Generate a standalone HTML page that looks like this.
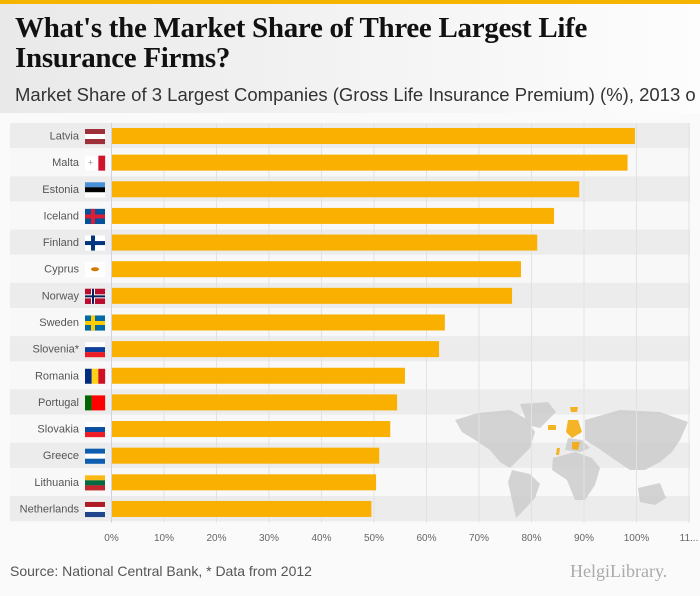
<!DOCTYPE html>
<html><head><meta charset="utf-8"><style>
html,body{margin:0;padding:0;}
body{width:700px;height:596px;background:#fafafa;position:relative;overflow:hidden;font-family:"Liberation Sans",sans-serif;}
#hdr{position:absolute;left:0;top:0;width:700px;height:113px;background:linear-gradient(90deg,#e9e9e9,#fdfdfd);border-top:4px solid #f5b400;box-sizing:border-box;}
#title{position:absolute;left:15px;top:9px;font-family:"Liberation Serif",serif;font-weight:bold;font-size:29px;line-height:30px;color:#111;letter-spacing:-0.3px;}
#sub{position:absolute;left:15px;top:80px;font-size:18.5px;color:#333;white-space:nowrap;}
#src{position:absolute;left:10px;top:563px;font-size:14px;color:#555;}
#logo{position:absolute;left:570px;top:561px;font-family:"Liberation Serif",serif;font-size:18px;color:#aaa;}
</style></head><body>
<div id="hdr">
<div id="title">What's the Market Share of Three Largest Life<br>Insurance Firms?</div>
<div id="sub">Market Share of 3 Largest Companies (Gross Life Insurance Premium) (%), 2013 o</div>
</div>
<svg id="chart" width="700" height="596" style="position:absolute;left:0;top:0"></svg>
<div id="src">Source: National Central Bank, * Data from 2012</div>
<div id="logo">HelgiLibrary.</div>
<script>
const categories=["Latvia","Malta","Estonia","Iceland","Finland","Cyprus","Norway","Sweden","Slovenia*","Romania","Portugal","Slovakia","Greece","Lithuania","Netherlands"];
const values=[99.6,98.2,89.0,84.2,81.0,77.9,76.2,63.4,62.3,55.8,54.3,53.0,50.9,50.3,49.4];
const tickValues=[0,10,20,30,40,50,60,70,80,90,100,110];
const tickLabels=["0%","10%","20%","30%","40%","50%","60%","70%","80%","90%","100%","11..."];
const flags=[["#9e3039","#fff","#9e3039"],["#fff","#fff","#cf142b"],["#4891d9","#000","#fff"],["#02529c","#dc1e35","#02529c"],["#fff","#003580","#fff"],["#fff","#fff","#fff"],["#ba0c2f","#00205b","#ba0c2f"],["#006aa7","#fecc00","#006aa7"],["#fff","#0d3f9c","#ed1c24"],["#002b7f","#fcd116","#ce1126"],["#006600","#ff0000","#ff0000"],["#fff","#0b4ea2","#ee1c25"],["#0d5eaf","#fff","#0d5eaf"],["#fdb913","#006a44","#c1272d"],["#ae1c28","#fff","#21468b"]];
const NS="http://www.w3.org/2000/svg";
const svg=document.getElementById('chart');
const x0=111.5,x100=636.5,rowTop=123,rowH=26.64;
function xs(v){return x0+(x100-x0)*v/100;}
function ys(i){return rowTop+i*rowH;}
function mk(t,a,p){const e=document.createElementNS(NS,t);for(const k in a)e.setAttribute(k,a[k]);(p||svg).appendChild(e);return e;}
let e=mk('rect',{x:10,y:rowTop,width:680,height:rowH*categories.length,fill:'#f8f8f8'});


categories.forEach((c,i)=>{if(i%2==0){const b=mk('rect',{x:10,y:ys(i),width:680,height:rowH-1.5,fill:'#ececec'});

}});
const mp=[["M455,420 L478,413 L510,410 L525,418 L535,432 L530,448 L520,458 L510,468 L500,462 L490,450 L475,440 L462,432 Z","#ccc"],
["M520,404 L548,402 L556,412 L540,428 L528,425 Z","#ccc"],
["M512,470 L530,474 L540,484 L535,498 L522,512 L516,518 L512,500 L508,482 Z","#ccc"],
["M585,420 L620,410 L660,412 L688,422 L680,440 L672,452 L660,462 L645,470 L630,470 L615,460 L598,448 L585,440 Z","#ccc"],
["M553,458 L575,452 L592,458 L600,468 L595,485 L585,500 L575,500 L567,480 L552,470 Z","#ccc"],
["M638,488 L660,483 L666,498 L655,505 L640,502 Z","#ccc"],
["M568,438 L582,440 L590,448 L580,452 L565,450 Z","#ccc"],
["M568,420 L578,420 L582,432 L572,438 L566,432 Z","#f5a800"],["M548,425 L556,425 L556,430 L548,430 Z","#f5a800"],
["M570,407 L578,407 L577,412 L571,412 Z","#f5a800"],["M572,442 L580,442 L578,450 L572,449 Z","#f5a800"],["M557,448 L560,448 L559,455 L556,455 Z","#f5a800"]];
mp.forEach(m=>{const p=mk('path',{d:m[0],fill:m[1],opacity:0.85});

});
tickValues.forEach((v,i)=>{const l=mk('line',{x1:xs(v),x2:xs(v),y1:rowTop,y2:ys(categories.length),stroke:'#e2e2e2','stroke-width':1});


const t=mk('text',{x:xs(v),y:541,'text-anchor':'middle','font-size':10,fill:'#666'});t.textContent=tickLabels[i];

});
categories.forEach((c,i)=>{const y=ys(i);
const r=mk('rect',{x:xs(0)+0.5,y:y+5,width:xs(values[i])-xs(0),height:16,fill:'#f9b000'});


const t=mk('text',{x:79,y:y+16.5,'text-anchor':'end','font-size':11,fill:'#555'});t.textContent=c;


const g=mk('g',{});


const f=flags[i];const vertical=(c=="Malta"||c=="Romania"||c=="Portugal");
for(let k=0;k<3;k++){if(vertical)mk('rect',{x:85+k*6.67,y:y+6,width:6.8,height:15,fill:f[k]},g);else mk('rect',{x:85,y:y+6+k*5,width:20,height:5.1,fill:f[k]},g);}
if(c=="Iceland"||c=="Finland"||c=="Norway"||c=="Sweden"){const cc=c=="Iceland"?"#dc1e35":c=="Finland"?"#003580":c=="Norway"?"#fff":"#fecc00";
mk('rect',{x:85,y:y+6,width:20,height:15,fill:c=="Finland"?"#fff":f[0]},g);
mk('rect',{x:85,y:y+11.5,width:20,height:4,fill:cc},g);mk('rect',{x:91,y:y+6,width:4,height:15,fill:cc},g);
if(c=="Norway"){mk('rect',{x:85,y:y+12.5,width:20,height:2,fill:'#00205b'},g);mk('rect',{x:92,y:y+6,width:2,height:15,fill:'#00205b'},g);}
if(c=="Iceland"){mk('rect',{x:85,y:y+12.5,width:20,height:2,fill:'#dc1e35'},g);}}
if(c=="Cyprus")mk('ellipse',{cx:95,cy:y+13,rx:4,ry:2,fill:'#d57800'},g);
if(c=="Malta")mk('text',{x:88,y:y+16,'font-size':9,fill:'#999'},g).textContent="+";
});
const ax=mk('line',{x1:xs(0),x2:xs(0),y1:rowTop,y2:ys(categories.length),stroke:'#cdd3e0'});


</script>
</body></html>
